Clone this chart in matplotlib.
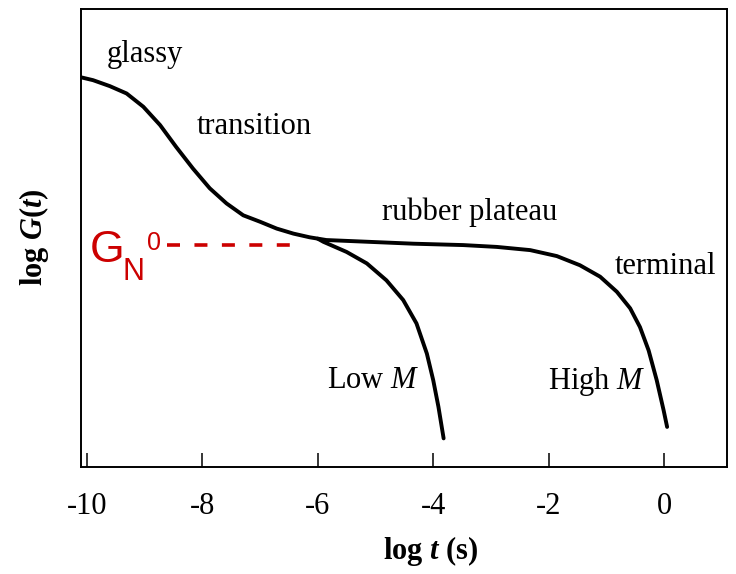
import numpy as np
import matplotlib
matplotlib.use('Agg')
from matplotlib import pyplot as plt

plt.rcParams['font.family'] = 'Liberation Serif'
plt.rcParams['mathtext.fontset'] = 'custom'
plt.rcParams['mathtext.rm'] = 'Liberation Serif'
plt.rcParams['mathtext.it'] = 'Liberation Serif:italic'
plt.rcParams['mathtext.bf'] = 'Liberation Serif:bold'
plt.rcParams['mathtext.bfit'] = 'Liberation Serif:italic:bold'
plt.rcParams['axes.unicode_minus'] = False

# relaxation modulus, high molecular weight (glassy -> plateau -> terminal)
log_t_high = [-10.09, -9.89, -9.60, -9.31, -9.02, -8.73, -8.45, -8.16, -7.87, -7.58,
              -7.29, -7.00, -6.71, -6.42, -6.14, -5.85, -4.34, -3.48, -2.90, -2.32,
              -1.86, -1.46, -1.11, -0.82, -0.59, -0.42, -0.27, -0.13, -0.01, 0.05]
log_G_high = [8.51, 8.45, 8.32, 8.16, 7.87, 7.47, 6.99, 6.52, 6.09, 5.76,
              5.50, 5.36, 5.21, 5.10, 5.02, 4.96, 4.88, 4.85, 4.81, 4.74,
              4.61, 4.41, 4.16, 3.83, 3.47, 3.06, 2.55, 1.90, 1.24, 0.88]

# low molecular weight branch leaving the plateau early
log_t_low = [-6.00, -5.90, -5.50, -5.15, -4.81, -4.52, -4.29, -4.11, -4.00, -3.91, -3.82]
log_G_low = [4.99, 4.92, 4.70, 4.45, 4.08, 3.65, 3.14, 2.48, 1.90, 1.32, 0.63]

# plateau modulus marker
plateau_t = [-8.61, -6.45]
plateau_G = 4.85

xticks = [-10, -8, -6, -4, -2, 0]
region_labels = ['glassy', 'transition', 'rubber plateau', 'terminal']
region_pos = [(-9.66, 9.02), (-8.09, 7.44), (-4.89, 5.56), (-0.85, 4.39)]

fig = plt.figure(figsize=(7.36, 5.74), dpi=100)
ax = fig.add_axes([0.110, 0.186, 0.878, 0.798])

ax.plot(log_t_high, log_G_high, color='black', lw=2.8, solid_capstyle='round', solid_joinstyle='round')
ax.plot(log_t_low, log_G_low, color='black', lw=2.8, solid_capstyle='round', solid_joinstyle='round')
ax.plot(plateau_t, [plateau_G] * 2, color='#cc0000', lw=2.6, dashes=(3.6, 4.0))

for label, (x, y) in zip(region_labels, region_pos):
    ax.text(x, y, label, fontsize=22, va='center', ha='left')
ax.text(-5.84, 1.90, r'Low $\mathit{M}$', fontsize=22, va='center', ha='left')
ax.text(-2.01, 1.87, r'High $\mathit{M}$', fontsize=22, va='center', ha='left')

# G_N^0 written out piece by piece
sans = 'Liberation Sans'
ax.text(-9.95, 4.48, 'G', fontsize=32, color='#cc0000', family=sans, va='baseline')
ax.text(-9.38, 4.08, 'N', fontsize=22, color='#cc0000', family=sans, va='baseline')
ax.text(-8.96, 4.74, '0', fontsize=18, color='#cc0000', family=sans, va='baseline')

ax.set_xlim(-10.1, 1.09)
ax.set_ylim(0, 10)
ax.set_xticks(xticks)
ax.set_xticklabels([str(v) for v in xticks])
ax.set_yticks([])
ax.tick_params(axis='x', direction='in', length=10, width=1.1, labelsize=22, pad=18)
for s in ax.spines.values():
    s.set_linewidth(1.4)

fig.text(0.585, 0.040, r'$\mathbf{log}\ \mathbfit{t}\ \mathbf{(s)}$', fontsize=22,
         ha='center', va='center')
fig.text(0.046, 0.587, r'$\mathbf{log}\ \mathbfit{G}\mathbf{(}\mathbfit{t}\mathbf{)}$', fontsize=22,
         ha='center', va='center', rotation=90)

fig.savefig('out.png', dpi=100)
